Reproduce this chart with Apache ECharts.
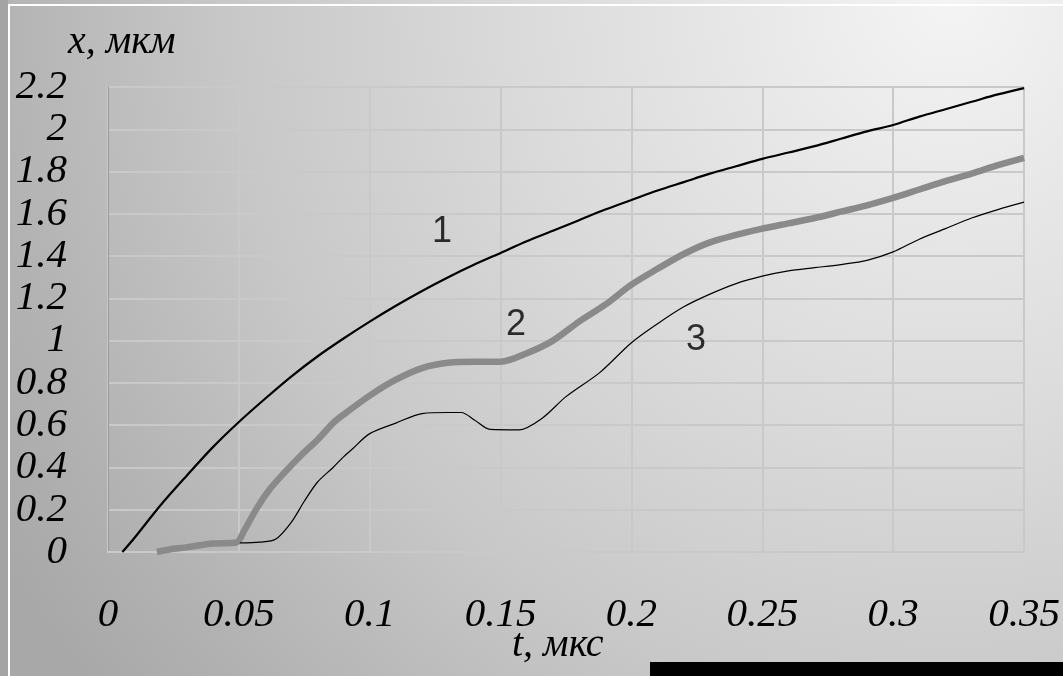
<!DOCTYPE html>
<html>
<head>
<meta charset="utf-8">
<script src="https://cdn.jsdelivr.net/npm/echarts@6/dist/echarts.min.js"></script>
<style>
html,body{margin:0;padding:0;}
body{width:1063px;height:676px;overflow:hidden;
  background: radial-gradient(ellipse 1100px 1100px at 950px 0px, #f4f4f4 0%, #dadada 40%, #c8c8c8 65%, #b2b2b2 88%, #a8a8a8 100%);}
#chart{width:1063px;height:676px;}
</style>
</head>
<body>
<div id="chart"></div>
<script>
// кривая 1
var curve1 = [
    [0.0055,0],[0.01,0.065],[0.02,0.22],[0.03,0.36],[0.04,0.495],[0.05,0.615],
    [0.06,0.725],[0.07,0.83],[0.08,0.925],[0.09,1.01],[0.10,1.09],[0.11,1.165],
    [0.12,1.235],[0.13,1.30],[0.14,1.36],[0.15,1.415],[0.16,1.47],[0.17,1.52],
    [0.18,1.57],[0.19,1.62],[0.20,1.665],[0.21,1.71],[0.22,1.75],[0.23,1.79],
    [0.24,1.825],[0.25,1.86],[0.26,1.89],[0.27,1.92],[0.28,1.955],[0.29,1.99],
    [0.30,2.02],[0.31,2.06],[0.32,2.095],[0.33,2.13],[0.34,2.165],[0.35,2.195]
];
// кривая 2
var curve2 = [
    [0.0187,0],[0.025,0.015],[0.03,0.022],[0.04,0.04],[0.049,0.045],[0.052,0.10],
    [0.057,0.21],[0.062,0.30],[0.067,0.37],[0.074,0.46],[0.08,0.53],[0.086,0.61],
    [0.09,0.65],[0.10,0.74],[0.11,0.815],[0.12,0.87],[0.13,0.895],[0.14,0.90],
    [0.15,0.90],[0.16,0.94],[0.17,1.0],[0.18,1.09],[0.19,1.17],[0.20,1.265],
    [0.21,1.34],[0.22,1.41],[0.23,1.465],[0.24,1.50],[0.25,1.53],[0.26,1.555],
    [0.27,1.58],[0.28,1.61],[0.29,1.64],[0.30,1.675],[0.31,1.715],[0.32,1.755],
    [0.33,1.79],[0.34,1.83],[0.35,1.865]
];
// кривая 3
var curve3 = [
    [0.0504,0.043],[0.058,0.047],[0.064,0.06],[0.07,0.14],[0.075,0.24],[0.08,0.33],
    [0.086,0.40],[0.09,0.45],[0.0936,0.49],[0.10,0.56],[0.11,0.61],[0.12,0.655],
    [0.13,0.66],[0.135,0.66],[0.14,0.625],[0.146,0.58],[0.157,0.578],[0.166,0.634],
    [0.175,0.735],[0.188,0.85],[0.20,0.99],[0.21,1.08],[0.22,1.16],[0.23,1.22],
    [0.24,1.27],[0.25,1.305],[0.26,1.33],[0.27,1.345],[0.28,1.36],[0.29,1.38],
    [0.30,1.42],[0.31,1.48],[0.32,1.53],[0.33,1.58],[0.34,1.62],[0.35,1.655]
];
// номера кривых
var curveLabels = [[0.1276,1.514,'1'],[0.1559,1.074,'2'],[0.2247,1.003,'3']];

var serif = '"Liberation Serif","Times New Roman",serif';

var chart = echarts.init(document.getElementById('chart'));
var option = {
    backgroundColor: 'transparent',
    animation: false,
    grid: {left: 108, right: 39, top: 87, bottom: 124},
    xAxis: {
        type: 'value', min: 0, max: 0.35, interval: 0.05,
        axisLine: {show: true, lineStyle: {color: '#c9c9c9', width: 2}},
        axisTick: {show: false},
        splitLine: {show: true, lineStyle: {color: '#c9c9c9', width: 2}},
        axisLabel: {
            margin: 43, color: '#000', fontFamily: serif, fontStyle: 'italic', fontSize: 41,
            formatter: function(v){ return String(+v.toFixed(2)); }
        }
    },
    yAxis: {
        type: 'value', min: 0, max: 2.2, interval: 0.2,
        axisLine: {show: true, lineStyle: {color: '#9a9a9a', width: 1}},
        axisTick: {show: false},
        splitLine: {show: true, lineStyle: {color: '#c9c9c9', width: 2}},
        axisLabel: {
            margin: 41, color: '#000', fontFamily: serif, fontStyle: 'italic', fontSize: 41,
            formatter: function(v){ return String(+v.toFixed(1)); }
        }
    },
    graphic: [
        {type: 'rect', shape: {x: 0, y: 0, width: 8, height: 676}, style: {fill: '#a4a4a4'}},
        {type: 'line', shape: {x1: 9, y1: 5, x2: 9, y2: 676}, style: {stroke: '#ffffff', lineWidth: 2}},
        {type: 'line', shape: {x1: 8, y1: 5, x2: 1063, y2: 5}, style: {stroke: '#ffffff', lineWidth: 2}},
        {type: 'text', left: 68, top: 22, style: {text: 'x, мкм', fill: '#000', font: 'italic 40px ' + serif}},
        {type: 'text', left: 512, top: 625, style: {text: 't, мкс', fill: '#000', font: 'italic 40px ' + serif}},
        {type: 'rect', shape: {x: 650, y: 662, width: 413, height: 14}, style: {fill: '#000'}}
    ],
    series: [
        {
            name: '1', type: 'line', data: curve1, showSymbol: false, smooth: 0.3,
            lineStyle: {color: '#000', width: 2.2}
        },
        {
            name: '2', type: 'line', data: curve2, showSymbol: false, smooth: 0.3,
            lineStyle: {color: '#8a8a8a', width: 6.5}
        },
        {
            name: '3', type: 'line', data: curve3, showSymbol: false, smooth: 0.3,
            lineStyle: {color: '#000', width: 1.2}
        },
        {
            name: 'labels', type: 'scatter', data: curveLabels, symbolSize: 0,
            label: {
                show: true, position: 'inside', color: '#000',
                fontFamily: '"Liberation Sans",Arial,sans-serif', fontSize: 36,
                formatter: function(p){ return p.value[2]; }
            }
        }
    ]
};
chart.setOption(option);
</script>
</body>
</html>
